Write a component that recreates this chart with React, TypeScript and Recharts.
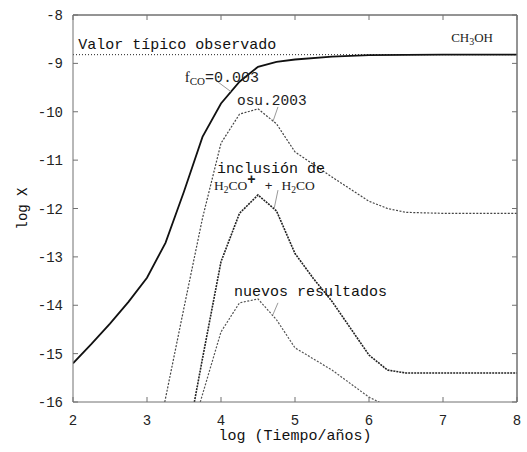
import React from 'react'
import {
  LineChart, Line, XAxis, YAxis, ReferenceDot, ReferenceLine,
} from 'recharts'

// log(Tiempo/años) ticks and log X ticks
const xTicks = [2, 3, 4, 5, 6, 7, 8]
const yTicks = [-16, -15, -14, -13, -12, -11, -10, -9, -8]

// f_CO = 0.003 (solid)
const fcoX = [2, 2.25, 2.5, 2.75, 3, 3.25, 3.5, 3.75, 4, 4.25, 4.5, 4.75, 5, 5.5, 6, 7, 8]
const fcoY = [-15.2, -14.8, -14.38, -13.93, -13.43, -12.71, -11.65, -10.52, -9.83, -9.38, -9.07, -8.97, -8.92, -8.86, -8.83, -8.82, -8.82]

// osu.2003
const osuX = [3.24, 3.5, 3.75, 4, 4.25, 4.5, 4.75, 5, 5.5, 6, 6.25, 6.5, 7, 8]
const osuY = [-16, -14.05, -12.2, -10.65, -10.05, -9.94, -10.25, -10.83, -11.35, -11.85, -12.0, -12.08, -12.1, -12.1]

// inclusión de H2CO+ + H2CO
const inclX = [3.64, 3.75, 4, 4.25, 4.5, 4.75, 5, 5.25, 5.5, 6, 6.25, 6.5, 7, 8]
const inclY = [-16, -15.1, -13.1, -12.1, -11.72, -12.05, -12.93, -13.45, -13.92, -15.03, -15.34, -15.4, -15.4, -15.4]

// nuevos resultados
const nuevX = [3.72, 4, 4.25, 4.5, 4.75, 5, 5.5, 6, 6.2]
const nuevY = [-16, -14.55, -13.95, -13.87, -14.3, -14.88, -15.34, -15.9, -16.05]

// valor típico observado
const obsX = [2, 8]
const obsY = [-8.82, -8.82]

const zip = (xs: number[], ys: number[]) => xs.map((x, i) => ({ x, y: ys[i] }))

const W = 527
const H = 452
const MARGIN = { top: 15, right: 10, bottom: 0, left: 0 }
const PLOT_TOP = MARGIN.top
const PLOT_RIGHT = W - MARGIN.right

const MONO = '"Liberation Mono", "DejaVu Sans Mono", monospace'
const SERIF = '"Liberation Serif", "DejaVu Serif", serif'
const AXIS = '#707070'
const ARROW = '#999'
const TICK = 5

// tick labels plus inward tick marks on both opposite sides
const BottomTick = (p: any) => (
  <g>
    <path d={`M${p.x},${p.y}V${p.y - TICK}M${p.x},${PLOT_TOP}V${PLOT_TOP + TICK}`}
      stroke={AXIS} strokeWidth={1} fill="none" />
    <text x={p.x} y={p.y + 23} textAnchor="middle" fontFamily={MONO} fontSize={14} fill="#222">
      {p.payload.value}
    </text>
  </g>
)
const LeftTick = (p: any) => (
  <g>
    <path d={`M${p.x},${p.y}H${p.x + TICK}M${PLOT_RIGHT},${p.y}H${PLOT_RIGHT - TICK}`}
      stroke={AXIS} strokeWidth={1} fill="none" />
    <text x={p.x - 10} y={p.y} dy={5} textAnchor="end" fontFamily={MONO} fontSize={14} fill="#222">
      {p.payload.value}
    </text>
  </g>
)

const note = (render: (x: number, y: number) => React.ReactNode) => ({
  content: (p: any) => <g>{render(p.viewBox.x, p.viewBox.y)}</g>,
})

export default function App() {
  return (
    <div style={{ position: 'absolute', left: 0, top: 0, background: '#fff' }}>
      <LineChart width={W} height={H} margin={MARGIN}>
        <XAxis
          dataKey="x" type="number" domain={[2, 8]} ticks={xTicks} allowDataOverflow
          height={50} stroke={AXIS} tickLine={false} tickSize={0} tickMargin={0}
          tick={<BottomTick />}
          label={{
            content: (p: any) => {
              const vb = p.viewBox
              return (
                <g>
                  {/* top and right edges of the frame */}
                  <path d={`M${vb.x},${PLOT_TOP}H${vb.x + vb.width}V${vb.y}`}
                    stroke={AXIS} strokeWidth={1} fill="none" />
                  <text x={vb.x + vb.width / 2} y={440} textAnchor="middle"
                    fontFamily={MONO} fontSize={15} fill="#111">log (Tiempo/años)</text>
                </g>
              )
            },
          }}
        />
        <YAxis
          type="number" domain={[-16, -8]} ticks={yTicks} allowDataOverflow
          width={73} stroke={AXIS} tickLine={false} tickSize={0} tickMargin={0}
          tick={<LeftTick />}
          label={{
            content: (p: any) => (
              <text x={23} y={p.viewBox.y + p.viewBox.height / 2} textAnchor="middle"
                dominantBaseline="central" transform={`rotate(-90 23 ${p.viewBox.y + p.viewBox.height / 2})`}
                fontFamily={MONO} fontSize={14} fill="#111">log X</text>
            ),
          }}
        />

        <Line data={zip(obsX, obsY)} dataKey="y" stroke="#222" strokeWidth={1}
          strokeDasharray="1 2" dot={false} isAnimationActive={false} />
        <Line data={zip(osuX, osuY)} dataKey="y" stroke="#444" strokeWidth={1.2}
          strokeDasharray="2 1.5" dot={false} isAnimationActive={false} />
        <Line data={zip(nuevX, nuevY)} dataKey="y" stroke="#555" strokeWidth={1.2}
          strokeDasharray="2 1.5" dot={false} isAnimationActive={false} />
        <Line data={zip(inclX, inclY)} dataKey="y" stroke="#222" strokeWidth={1.6}
          strokeDasharray="2 1" dot={false} isAnimationActive={false} />
        <Line data={zip(fcoX, fcoY)} dataKey="y" stroke="#111" strokeWidth={1.8}
          dot={false} isAnimationActive={false} />

        {/* frame edges as reference lines too */}
        <ReferenceLine y={-8} stroke={AXIS} ifOverflow="visible" />
        <ReferenceLine x={8} stroke={AXIS} ifOverflow="visible" />

        {/* pointer lines from labels to curves */}
        <ReferenceLine segment={[{ x: 3.92, y: -9.34 }, { x: 4.13, y: -9.58 }]} stroke={ARROW} />
        <ReferenceLine segment={[{ x: 4.77, y: -9.9 }, { x: 4.7, y: -10.21 }]} stroke={ARROW} />
        <ReferenceLine segment={[{ x: 4.77, y: -11.62 }, { x: 4.72, y: -11.99 }]} stroke={ARROW} />
        <ReferenceLine segment={[{ x: 4.77, y: -13.95 }, { x: 4.7, y: -14.2 }]} stroke={ARROW} />

        <ReferenceDot x={2.07} y={-8.7} r={0} stroke="none" label={note((x, y) => (
          <text x={x} y={y} fontFamily={MONO} fontSize={15} fill="#111">Valor típico observado</text>
        ))} />
        <ReferenceDot x={7.11} y={-8.56} r={0} stroke="none" label={note((x, y) => (
          <text x={x} y={y} fontFamily={SERIF} fontSize={13} fill="#222">
            CH<tspan fontSize={10} dy={3}>3</tspan><tspan dy={-3}>OH</tspan>
          </text>
        ))} />
        <ReferenceDot x={3.51} y={-9.385} r={0} stroke="none" label={note((x, y) => (
          <text x={x} y={y} fontFamily={MONO} fontSize={15} fill="#222">
            <tspan fontFamily={SERIF}>f</tspan>
            <tspan fontFamily={SERIF} fontSize={11} dy={3}>CO</tspan>
            <tspan dy={-3}>=0.003</tspan>
          </text>
        ))} />
        <ReferenceDot x={4.216} y={-9.86} r={0} stroke="none" label={note((x, y) => (
          <text x={x} y={y} fontFamily={MONO} fontSize={14.5} fill="#222">osu.2003</text>
        ))} />
        <ReferenceDot x={3.946} y={-11.27} r={0} stroke="none" label={note((x, y) => (
          <text x={x} y={y} fontFamily={MONO} fontSize={15} fill="#111">inclusión de</text>
        ))} />
        <ReferenceDot x={3.905} y={-11.62} r={0} stroke="none" label={note((x, y) => (
          <text x={x} y={y} fontFamily={SERIF} fontSize={13.5} fill="#222">
            H<tspan fontSize={9.5} dy={3}>2</tspan><tspan dy={-3}>CO</tspan>
            <tspan fontFamily={MONO} fontWeight="bold" fontSize={14} dy={-6}>+</tspan>
            <tspan fontFamily={MONO} fontSize={13} dy={6} dx={9}>+</tspan>
            <tspan dx={9}>H</tspan><tspan fontSize={9.5} dy={3}>2</tspan><tspan dy={-3}>CO</tspan>
          </text>
        ))} />
        <ReferenceDot x={4.176} y={-13.81} r={0} stroke="none" label={note((x, y) => (
          <text x={x} y={y} fontFamily={MONO} fontSize={15} fill="#111">nuevos resultados</text>
        ))} />
      </LineChart>
    </div>
  )
}
